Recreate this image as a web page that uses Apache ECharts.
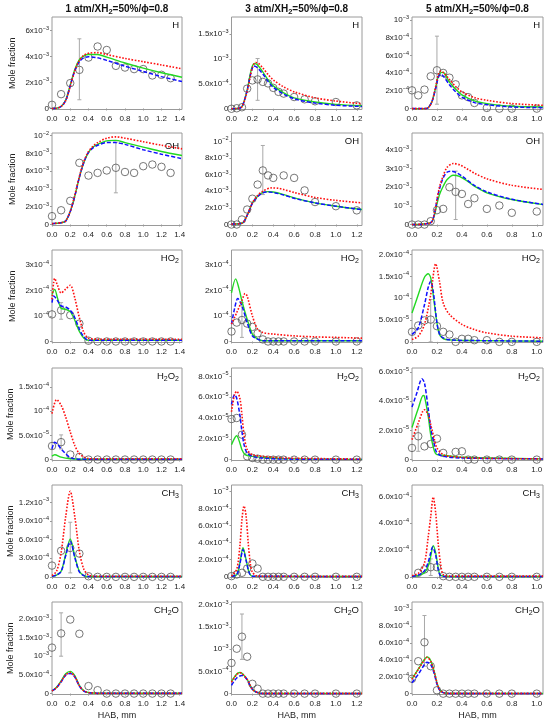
<!DOCTYPE html>
<html><head><meta charset="utf-8">
<script src="https://cdn.jsdelivr.net/npm/echarts@6/dist/echarts.min.js"></script>
<style>html,body{margin:0;padding:0;background:#fff}#c{width:550px;height:727px}</style>
</head><body><div id="c"></div>
<script>
// ---------- tick labels ----------
const xTicks1 = [0, 0.2, 0.4, 0.6, 0.8, 1.0, 1.2, 1.4];
const xTicks3 = [0, 0.2, 0.4, 0.6, 0.8, 1.0, 1.2];
const xTicks5 = [0, 0.2, 0.4, 0.6, 0.8, 1.0];

const hLabels1 = ['0', '2x10^-3', '4x10^-3', '6x10^-3'];
const hLabels3 = ['0', '5.0x10^-4', '10^-3', '1.5x10^-3'];
const hLabels5 = ['0', '2x10^-4', '4x10^-4', '6x10^-4', '8x10^-4', '10^-3'];
const ohLabels1 = ['0', '2x10^-3', '4x10^-3', '6x10^-3', '8x10^-3', '10^-2'];
const ohLabels3 = ['0', '2x10^-3', '4x10^-3', '6x10^-3', '8x10^-3', '10^-2'];
const ohLabels5 = ['0', '10^-3', '2x10^-3', '3x10^-3', '4x10^-3'];
const ho2Labels1 = ['0', '10^-4', '2x10^-4', '3x10^-4'];
const ho2Labels3 = ['0', '10^-4', '2x10^-4', '3x10^-4'];
const ho2Labels5 = ['0', '5.0x10^-5', '10^-4', '1.5x10^-4', '2.0x10^-4'];
const h2o2Labels1 = ['0', '5.0x10^-5', '10^-4', '1.5x10^-4'];
const h2o2Labels3 = ['0', '2.0x10^-5', '4.0x10^-5', '6.0x10^-5', '8.0x10^-5'];
const h2o2Labels5 = ['0', '2.0x10^-5', '4.0x10^-5', '6.0x10^-5'];
const ch3Labels1 = ['0', '3.0x10^-4', '6.0x10^-4', '9.0x10^-4', '1.2x10^-3'];
const ch3Labels3 = ['0', '2.0x10^-4', '4.0x10^-4', '6.0x10^-4', '8.0x10^-4', '10^-3'];
const ch3Labels5 = ['0', '2.0x10^-4', '4.0x10^-4', '6.0x10^-4'];
const ch2oLabels1 = ['0', '5.0x10^-4', '10^-3', '1.5x10^-3', '2.0x10^-3'];
const ch2oLabels3 = ['0', '5.0x10^-4', '10^-3', '1.5x10^-3', '2.0x10^-3'];
const ch2oLabels5 = ['0', '2.0x10^-4', '4.0x10^-4', '6.0x10^-4', '8.0x10^-4', '10^-3'];

// ---------- data: [HAB mm, mole fraction in panel unit] ; errors: [HAB, low, high] ----------
// H, 1 atm (unit 1e-3)
const hRed1 = [[0,0],[0.05,0.02],[0.1,0.15],[0.15,0.6],[0.2,1.7],[0.25,2.9],[0.3,3.7],[0.35,4.1],[0.4,4.25],[0.5,4.3],[0.6,4.15],[0.8,3.85],[1.0,3.6],[1.2,3.35],[1.425,3.05]];
const hBlue1 = [[0,0],[0.05,0.02],[0.1,0.15],[0.15,0.6],[0.2,1.75],[0.25,2.9],[0.3,3.6],[0.35,3.9],[0.4,3.98],[0.5,3.9],[0.6,3.7],[0.8,3.25],[1.0,2.85],[1.2,2.45],[1.425,2.07]];
const hGreen1 = [[0,0],[0.05,0.02],[0.1,0.15],[0.15,0.65],[0.2,1.8],[0.25,3.0],[0.3,3.75],[0.35,4.05],[0.4,4.15],[0.5,4.15],[0.6,3.95],[0.8,3.5],[1.0,3.1],[1.2,2.75],[1.425,2.4]];
const hExp1 = [[0,0.28],[0.1,1.1],[0.2,1.95],[0.3,2.97],[0.4,3.92],[0.5,4.77],[0.6,4.5],[0.7,3.28],[0.8,3.15],[0.9,3.03],[1.0,3.03],[1.1,2.54],[1.2,2.59],[1.3,2.33]];
const hErr1 = [[0.3,0.67,5.36]];
// H, 3 atm (unit 1e-4)
const hRed3 = [[0,0],[0.05,0.05],[0.1,0.4],[0.15,3.5],[0.18,6.5],[0.2,8.3],[0.23,9.3],[0.26,9.1],[0.3,8.2],[0.35,6.9],[0.4,5.8],[0.5,4.4],[0.6,3.4],[0.8,2.2],[1.0,1.55],[1.25,1.0]];
const hBlue3 = [[0,0],[0.05,0.05],[0.1,0.4],[0.15,3.7],[0.18,6.7],[0.2,8.2],[0.21,8.6],[0.24,8.4],[0.3,7.0],[0.35,5.5],[0.4,4.3],[0.5,2.95],[0.6,2.0],[0.8,1.15],[1.0,0.7],[1.25,0.47]];
const hGreen3 = [[0,0],[0.05,0.05],[0.1,0.4],[0.15,3.8],[0.18,7.0],[0.2,8.6],[0.22,9.1],[0.25,8.8],[0.3,7.4],[0.35,5.8],[0.4,4.6],[0.5,3.2],[0.6,2.2],[0.8,1.35],[1.0,0.88],[1.25,0.6]];
const hExp3 = [[0,0],[0.05,0.1],[0.1,0.3],[0.15,4.05],[0.2,5.7],[0.25,5.9],[0.3,5.4],[0.35,5.1],[0.4,4.2],[0.45,3.4],[0.5,3.05],[0.6,2.36],[0.7,1.9],[0.8,1.5],[1.0,1.35],[1.2,0.68]];
const hErr3 = [[0.25,1.7,10.1]];
// H, 5 atm (unit 1e-4)
const hRed5 = [[0,0],[0.1,0],[0.13,0.1],[0.16,0.8],[0.19,2.5],[0.21,3.8],[0.23,4.25],[0.25,4.1],[0.3,3.3],[0.35,2.5],[0.4,1.9],[0.5,1.25],[0.6,0.94],[0.8,0.57],[1.05,0.38]];
const hBlue5 = [[0,0],[0.1,0],[0.13,0.1],[0.16,0.8],[0.19,2.3],[0.21,3.5],[0.23,3.9],[0.25,3.7],[0.3,2.7],[0.35,1.9],[0.4,1.3],[0.5,0.68],[0.6,0.45],[0.8,0.19],[1.05,0.11]];
const hGreen5 = [[0,0],[0.1,0],[0.13,0.1],[0.16,0.8],[0.19,2.4],[0.21,3.6],[0.24,4.1],[0.26,4.0],[0.3,3.0],[0.35,2.2],[0.4,1.55],[0.5,0.87],[0.6,0.57],[0.8,0.26],[1.05,0.19]];
const hExp5 = [[0,2.07],[0.05,1.5],[0.1,2.15],[0.15,3.66],[0.2,4.34],[0.25,4.04],[0.3,3.5],[0.35,2.75],[0.4,1.5],[0.45,1.3],[0.5,0.64],[0.6,0.08],[0.7,0],[0.8,0],[1.0,0]];
const hErr5 = [[0.2,0.5,8.2]];
// OH, 1 atm (unit 1e-3)
const ohRed1 = [[0,0.1],[0.1,0.2],[0.15,0.4],[0.2,1.5],[0.25,3.3],[0.3,5.4],[0.35,7.1],[0.4,8.2],[0.45,8.8],[0.5,9.2],[0.6,9.7],[0.7,9.85],[0.8,9.7],[1.0,9.3],[1.2,8.9],[1.425,8.5]];
const ohBlue1 = [[0,0.1],[0.1,0.2],[0.15,0.4],[0.2,1.45],[0.25,3.2],[0.3,5.3],[0.35,7.0],[0.4,8.1],[0.45,8.6],[0.5,8.9],[0.6,9.2],[0.7,9.2],[0.8,9.0],[1.0,8.4],[1.2,7.9],[1.425,7.4]];
const ohGreen1 = [[0,0.1],[0.1,0.2],[0.15,0.4],[0.2,1.45],[0.25,3.2],[0.3,5.3],[0.35,7.0],[0.4,8.1],[0.45,8.7],[0.5,9.0],[0.6,9.4],[0.7,9.45],[0.8,9.2],[1.0,8.7],[1.2,8.2],[1.425,7.75]];
const ohExp1 = [[0,0.94],[0.1,1.6],[0.2,2.66],[0.3,6.93],[0.4,5.5],[0.5,5.8],[0.6,6.07],[0.7,6.37],[0.8,5.9],[0.9,5.8],[1.0,6.55],[1.1,6.74],[1.2,6.48],[1.3,5.8]];
const ohErr1 = [[0.7,3.56,9.25]];
// OH, 3 atm (unit 1e-3)
const ohRed3 = [[0,0.05],[0.1,0.15],[0.15,1.1],[0.2,2.6],[0.25,3.5],[0.3,4.0],[0.38,4.4],[0.45,4.35],[0.5,4.2],[0.6,3.85],[0.8,3.25],[1.0,2.9],[1.25,2.6]];
const ohBlue3 = [[0,0.05],[0.1,0.15],[0.15,1.1],[0.2,2.55],[0.25,3.35],[0.3,3.8],[0.35,3.9],[0.4,3.85],[0.5,3.55],[0.6,3.15],[0.8,2.6],[1.0,2.2],[1.25,1.8]];
const ohGreen3 = [[0,0.05],[0.1,0.15],[0.15,1.1],[0.2,2.6],[0.25,3.4],[0.3,3.85],[0.35,3.95],[0.4,3.9],[0.5,3.6],[0.6,3.2],[0.8,2.6],[1.0,2.2],[1.25,1.8]];
const ohExp3 = [[0,0],[0.05,0],[0.1,0.6],[0.15,1.8],[0.2,3.1],[0.25,4.8],[0.3,6.5],[0.35,5.9],[0.4,5.6],[0.5,5.9],[0.6,5.6],[0.7,4.1],[0.8,2.7],[1.0,2.2],[1.2,1.7]];
const ohErr3 = [[0.3,3.6,9.5]];
// OH, 5 atm (unit 1e-3)
const ohRed5 = [[0,0],[0.15,0.1],[0.18,0.6],[0.2,1.3],[0.22,2.0],[0.25,2.6],[0.28,3.05],[0.33,3.27],[0.38,3.2],[0.45,2.95],[0.5,2.75],[0.6,2.45],[0.8,2.1],[1.05,1.88]];
const ohBlue5 = [[0,0],[0.15,0.1],[0.18,0.6],[0.2,1.3],[0.22,1.9],[0.25,2.5],[0.28,2.8],[0.31,2.86],[0.35,2.8],[0.4,2.6],[0.5,2.1],[0.6,1.75],[0.8,1.35],[1.05,1.08]];
const ohGreen5 = [[0,0],[0.15,0.1],[0.18,0.5],[0.2,1.1],[0.22,1.6],[0.25,2.05],[0.28,2.4],[0.33,2.64],[0.38,2.58],[0.45,2.3],[0.5,2.05],[0.6,1.7],[0.8,1.34],[1.05,1.07]];
const ohExp5 = [[0,0],[0.05,0],[0.1,0],[0.15,0.18],[0.2,0.77],[0.25,0.84],[0.3,2.0],[0.35,1.75],[0.4,1.64],[0.45,1.1],[0.5,1.41],[0.6,0.84],[0.7,1.02],[0.8,0.63],[1.0,0.7]];
const ohErr5 = [[0.35,0.27,2.86]];
// HO2, 1 atm (unit 1e-4)
const ho2Red1 = [[0,1.65],[0.03,2.47],[0.06,2.2],[0.1,1.9],[0.15,2.05],[0.2,2.2],[0.25,1.7],[0.3,0.93],[0.35,0.35],[0.4,0.13],[0.5,0.09],[1.425,0.09]];
const ho2Blue1 = [[0,1.52],[0.02,1.78],[0.06,1.6],[0.1,1.39],[0.15,1.35],[0.2,1.22],[0.25,0.93],[0.3,0.48],[0.35,0.18],[0.4,0.05],[1.425,0.05]];
const ho2Green1 = [[0,1.84],[0.03,2.04],[0.06,1.7],[0.1,1.3],[0.15,1.26],[0.2,1.17],[0.25,0.83],[0.3,0.39],[0.35,0.13],[0.4,0.05],[1.425,0.05]];
const ho2Exp1 = [[0,1.06],[0.1,1.22],[0.2,1.03],[0.3,0.7],[0.4,0.03],[0.5,0],[0.6,0],[0.7,0],[0.8,0],[0.9,0],[1.0,0],[1.1,0],[1.2,0],[1.3,0]];
const ho2Err1 = [[0.1,0.87,1.52]];
// HO2, 3 atm (unit 1e-4)
const ho2Red3 = [[0,0.68],[0.05,1.13],[0.1,1.6],[0.13,1.88],[0.15,1.78],[0.2,1.0],[0.25,0.48],[0.3,0.35],[0.4,0.29],[0.6,0.22],[0.8,0.18],[1.0,0.16],[1.25,0.13]];
const ho2Blue3 = [[0,0.68],[0.03,1.3],[0.06,1.68],[0.1,1.39],[0.15,0.74],[0.2,0.22],[0.25,0.09],[0.3,0.03],[1.25,0.03]];
const ho2Green3 = [[0,1.9],[0.04,2.45],[0.07,2.1],[0.1,1.58],[0.15,0.87],[0.2,0.29],[0.25,0.09],[0.3,0.03],[1.25,0.03]];
const ho2Exp3 = [[0,0.39],[0.05,0.74],[0.1,0.84],[0.15,0.7],[0.2,0.57],[0.25,0.32],[0.3,0.08],[0.35,0],[0.4,0],[0.45,0],[0.5,0],[0.6,0],[0.7,0],[0.8,0],[1.0,0],[1.2,0]];
const ho2Err3 = [[0.1,0.16,1.52]];
// HO2, 5 atm (unit 1e-5)
const ho2Red5 = [[0,0.53],[0.05,1.3],[0.1,4.0],[0.15,10.8],[0.19,17.9],[0.22,13.9],[0.25,8.9],[0.3,6.3],[0.4,4.0],[0.5,2.8],[0.6,2.06],[0.8,1.3],[1.05,0.92]];
const ho2Blue5 = [[0,1.7],[0.05,3.2],[0.1,8.5],[0.13,12.5],[0.15,13.9],[0.17,11.6],[0.2,4.35],[0.22,1.83],[0.25,0.9],[0.3,0.46],[0.5,0.3],[1.05,0.15]];
const ho2Green5 = [[0,6.6],[0.05,10.8],[0.1,14.8],[0.13,15.6],[0.15,14.7],[0.18,8.5],[0.2,4.35],[0.22,1.7],[0.25,0.76],[0.3,0.46],[0.5,0.3],[1.05,0.15]];
const ho2Exp5 = [[0,2.3],[0.05,3.74],[0.1,4.9],[0.15,5.1],[0.2,3.6],[0.25,2.3],[0.3,1.68],[0.35,0],[0.4,0.69],[0.45,0.69],[0.5,0.38],[0.6,0.38],[0.7,0],[0.8,0],[1.0,0]];
const ho2Err5 = [[0.15,0,9.7]];
// H2O2, 1 atm (unit 1e-5)
const h2o2Red1 = [[0,9.5],[0.05,12.4],[0.1,11.25],[0.15,8.8],[0.2,5.7],[0.25,2.9],[0.3,1.2],[0.35,0.5],[0.4,0.2],[0.5,0.15],[1.425,0.15]];
const h2o2Blue1 = [[0,2.2],[0.03,3.6],[0.06,3.2],[0.1,2.2],[0.15,1.2],[0.2,0.4],[0.25,0.14],[0.3,0.05],[1.425,0.05]];
const h2o2Green1 = [[0,0.7],[0.03,1.0],[0.1,0.5],[0.2,0.15],[0.3,0.05],[1.425,0.05]];
const h2o2Exp1 = [[0,2.8],[0.1,3.6],[0.2,1.04],[0.3,0.55],[0.4,0],[0.5,0],[0.6,0],[0.7,0],[0.8,0],[0.9,0],[1.0,0],[1.1,0],[1.2,0],[1.3,0]];
const h2o2Err1 = [[0.1,2.2,5.1]];
// H2O2, 3 atm (unit 1e-5)
const h2o2Red3 = [[0,4.6],[0.03,6.3],[0.05,6.56],[0.08,5.9],[0.1,4.3],[0.12,2.4],[0.15,0.96],[0.2,0.48],[0.3,0.32],[0.5,0.16],[1.25,0.06]];
const h2o2Blue3 = [[0,5.3],[0.03,6.24],[0.05,5.9],[0.08,4.3],[0.1,2.7],[0.12,1.44],[0.15,0.64],[0.2,0.32],[0.3,0.16],[0.5,0.06],[1.25,0.03]];
const h2o2Green3 = [[0,1.44],[0.05,2.3],[0.08,1.6],[0.1,0.96],[0.13,0.48],[0.2,0.32],[0.3,0.22],[0.5,0.1],[1.25,0.03]];
const h2o2Exp3 = [[0,3.9],[0.05,4.0],[0.1,2.4],[0.15,0.32],[0.2,0.16],[0.25,0.1],[0.3,0],[0.35,0],[0.4,0],[0.45,0],[0.5,0],[0.6,0],[0.7,0],[0.8,0],[1.0,0],[1.2,0]];
const h2o2Err3 = [];
// H2O2, 5 atm (unit 1e-5)
const h2o2Red5 = [[0,1.37],[0.05,2.5],[0.1,3.42],[0.13,3.08],[0.15,2.4],[0.18,1.37],[0.2,0.8],[0.25,0.34],[0.3,0.23],[0.5,0.11],[1.05,0.05]];
const h2o2Blue5 = [[0,3.6],[0.04,4.6],[0.08,5.55],[0.1,5.25],[0.13,3.5],[0.15,2.17],[0.18,1.0],[0.2,0.46],[0.25,0.23],[0.4,0.11],[1.05,0.05]];
const h2o2Green5 = [[0,2.2],[0.05,3.5],[0.09,4.4],[0.1,4.34],[0.13,2.97],[0.15,1.7],[0.18,0.57],[0.2,0.34],[0.25,0.3],[0.4,0.16],[1.05,0.05]];
const h2o2Exp5 = [[0,0.8],[0.05,1.6],[0.1,0.91],[0.15,1.07],[0.2,1.44],[0.25,0.46],[0.35,0.53],[0.4,0.57],[0.45,0],[0.5,0],[0.6,0],[0.7,0],[0.8,0],[1.0,0]];
const h2o2Err5 = [[0.05,0.57,2.3]];
// CH3, 1 atm (unit 1e-4)
const ch3Red1 = [[0,0.2],[0.05,0.9],[0.1,3.9],[0.15,9.7],[0.2,13.8],[0.25,9.7],[0.3,4.1],[0.35,1.2],[0.4,0.3],[0.45,0.1],[1.425,0.1]];
const ch3Blue1 = [[0,0.1],[0.05,0.3],[0.1,0.85],[0.15,3.4],[0.2,5.75],[0.25,3.1],[0.3,0.8],[0.35,0.2],[0.4,0.05],[1.425,0.05]];
const ch3Green1 = [[0,0.1],[0.05,0.3],[0.1,0.9],[0.15,3.6],[0.2,6.1],[0.25,3.3],[0.3,0.9],[0.35,0.2],[0.4,0.05],[1.425,0.05]];
const ch3Exp1 = [[0,1.82],[0.1,4.2],[0.2,4.66],[0.3,3.75],[0.4,0.1],[0.5,0],[0.6,0],[0.7,0],[0.8,0],[0.9,0],[1.0,0],[1.1,0],[1.2,0],[1.3,0]];
const ch3Err1 = [[0.2,0.64,8.8]];
// CH3, 3 atm (unit 1e-4)
const ch3Red3 = [[0,0.08],[0.05,0.86],[0.08,3.6],[0.1,6.7],[0.12,8.3],[0.14,7.1],[0.16,4.0],[0.18,1.6],[0.2,0.55],[0.25,0.08],[1.25,0.05]];
const ch3Blue3 = [[0,0.04],[0.05,0.25],[0.08,1.5],[0.11,3.2],[0.14,1.9],[0.17,0.45],[0.2,0.08],[1.25,0.04]];
const ch3Green3 = [[0,0.04],[0.05,0.27],[0.08,1.6],[0.11,3.4],[0.14,2.0],[0.17,0.47],[0.2,0.08],[1.25,0.04]];
const ch3Exp3 = [[0,0.08],[0.05,0.27],[0.1,0.47],[0.15,0.97],[0.2,1.56],[0.25,0.97],[0.3,0],[0.35,0],[0.4,0],[0.45,0],[0.5,0],[0.6,0],[0.7,0],[0.8,0],[1.0,0],[1.2,0]];
const ch3Err3 = [];
// CH3, 5 atm (unit 1e-4)
const ch3Red5 = [[0,0.1],[0.05,0.25],[0.1,1.04],[0.13,3.0],[0.15,4.5],[0.17,5.96],[0.19,4.76],[0.21,2.5],[0.23,0.92],[0.25,0.17],[0.3,0.05],[1.05,0.05]];
const ch3Blue5 = [[0,0.03],[0.05,0.12],[0.1,0.45],[0.13,1.1],[0.15,1.8],[0.165,2.23],[0.19,1.6],[0.21,0.55],[0.23,0.08],[0.3,0.03],[1.05,0.03]];
const ch3Green5 = [[0,0.03],[0.05,0.1],[0.1,0.3],[0.13,0.8],[0.15,1.54],[0.17,2.33],[0.19,1.79],[0.21,0.67],[0.23,0.1],[0.3,0.03],[1.05,0.03]];
const ch3Exp5 = [[0.05,0.3],[0.1,0.55],[0.15,0.72],[0.2,0.72],[0.25,0.05],[0.3,0],[0.35,0],[0.4,0],[0.45,0],[0.5,0],[0.6,0],[0.7,0],[0.8,0],[1.0,0]];
const ch3Err5 = [[0.15,0.1,1.34]];
// CH2O, 1 atm (unit 1e-4)
const ch2oRed1 = [[0,0.7],[0.05,1.6],[0.1,3.2],[0.15,5.0],[0.2,5.6],[0.25,4.5],[0.3,2.1],[0.35,0.7],[0.4,0.27],[0.5,0.1],[1.425,0.1]];
const ch2oBlue1 = [[0,0.7],[0.05,1.6],[0.1,3.1],[0.15,4.9],[0.2,5.4],[0.25,4.4],[0.3,2.0],[0.35,0.65],[0.4,0.25],[0.5,0.1],[1.425,0.1]];
const ch2oGreen1 = [[0,0.7],[0.05,1.7],[0.1,3.4],[0.15,5.3],[0.2,5.95],[0.25,4.8],[0.3,2.2],[0.35,0.7],[0.4,0.27],[0.5,0.1],[1.425,0.1]];
const ch2oExp1 = [[0,12.3],[0.1,16.1],[0.2,19.8],[0.3,16.0],[0.4,2.0],[0.5,0.9],[0.6,0],[0.7,0],[0.8,0],[0.9,0],[1.0,0],[1.1,0],[1.2,0],[1.3,0]];
const ch2oErr1 = [[0.1,10,21.6]];
// CH2O, 3 atm (unit 1e-4)
const ch2oRed3 = [[0,2.6],[0.05,4.3],[0.08,4.7],[0.1,4.55],[0.15,3.2],[0.2,0.97],[0.25,0.22],[0.3,0.05],[1.25,0.05]];
const ch2oBlue3 = [[0,1.87],[0.05,3.5],[0.1,4.1],[0.12,4.0],[0.15,3.1],[0.2,0.95],[0.25,0.22],[0.3,0.05],[1.25,0.05]];
const ch2oGreen3 = [[0,2.7],[0.05,4.4],[0.08,4.75],[0.1,4.6],[0.15,3.2],[0.2,0.97],[0.25,0.22],[0.3,0.05],[1.25,0.05]];
const ch2oExp3 = [[0,6.9],[0.05,10.1],[0.1,12.8],[0.15,8.3],[0.2,2.2],[0.25,1.1],[0.3,0],[0.35,0],[0.4,0],[0.45,0],[0.5,0],[0.6,0],[0.7,0],[0.8,0],[1.0,0],[1.2,0]];
const ch2oErr3 = [[0.1,7.7,17.9]];
// CH2O, 5 atm (unit 1e-4)
const ch2oRed5 = [[0,1.7],[0.05,2.86],[0.1,4.0],[0.12,4.3],[0.15,3.84],[0.18,2.47],[0.2,1.3],[0.22,0.5],[0.25,0.12],[0.3,0.03],[1.05,0.03]];
const ch2oBlue5 = [[0,1.3],[0.05,2.27],[0.1,3.45],[0.12,3.73],[0.15,3.45],[0.18,2.27],[0.2,1.1],[0.22,0.45],[0.25,0.12],[0.3,0.03],[1.05,0.03]];
const ch2oGreen5 = [[0,1.75],[0.05,2.9],[0.1,4.05],[0.12,4.35],[0.15,3.9],[0.18,2.5],[0.2,1.3],[0.22,0.5],[0.25,0.12],[0.3,0.03],[1.05,0.03]];
const ch2oExp5 = [[0,1.76],[0.05,3.84],[0.1,6.08],[0.15,3.25],[0.2,0.4],[0.25,0],[0.3,0],[0.35,0],[0.4,0],[0.45,0],[0.5,0],[0.6,0],[0.7,0],[0.8,0],[1.0,0]];
const ch2oErr5 = [[0.1,3.25,9.25]];

// ---------- panel list ----------
const panels = [
  {row:0,col:0,label:'H',unit:1e-3,yMin:-0.08,yMax:7.04,ticks:hLabels1,red:hRed1,blue:hBlue1,green:hGreen1,exp:hExp1,err:hErr1},
  {row:0,col:1,label:'H',unit:1e-4,yMin:-0.15,yMax:18.45,ticks:hLabels3,red:hRed3,blue:hBlue3,green:hGreen3,exp:hExp3,err:hErr3},
  {row:0,col:2,label:'H',unit:1e-4,yMin:-0.1,yMax:10.37,ticks:hLabels5,red:hRed5,blue:hBlue5,green:hGreen5,exp:hExp5,err:hErr5},
  {row:1,col:0,label:'OH',unit:1e-3,yMin:-0.11,yMax:10.28,ticks:ohLabels1,red:ohRed1,blue:ohBlue1,green:ohGreen1,exp:ohExp1,err:ohErr1,labelDy:13},
  {row:1,col:1,label:'OH',unit:1e-3,yMin:-0.12,yMax:11.0,ticks:ohLabels3,red:ohRed3,blue:ohBlue3,green:ohGreen3,exp:ohExp3,err:ohErr3},
  {row:1,col:2,label:'OH',unit:1e-3,yMin:-0.05,yMax:4.9,ticks:ohLabels5,red:ohRed5,blue:ohBlue5,green:ohGreen5,exp:ohExp5,err:ohErr5},
  {row:2,col:0,label:'HO2',unit:1e-4,yMin:-0.04,yMax:3.58,ticks:ho2Labels1,red:ho2Red1,blue:ho2Blue1,green:ho2Green1,exp:ho2Exp1,err:ho2Err1},
  {row:2,col:1,label:'HO2',unit:1e-4,yMin:-0.04,yMax:3.58,ticks:ho2Labels3,red:ho2Red3,blue:ho2Blue3,green:ho2Green3,exp:ho2Exp3,err:ho2Err3},
  {row:2,col:2,label:'HO2',unit:1e-5,yMin:-0.15,yMax:21.05,ticks:ho2Labels5,red:ho2Red5,blue:ho2Blue5,green:ho2Green5,exp:ho2Exp5,err:ho2Err5},
  {row:3,col:0,label:'H2O2',unit:1e-5,yMin:-0.2,yMax:18.95,ticks:h2o2Labels1,red:h2o2Red1,blue:h2o2Blue1,green:h2o2Green1,exp:h2o2Exp1,err:h2o2Err1},
  {row:3,col:1,label:'H2O2',unit:1e-5,yMin:-0.08,yMax:8.8,ticks:h2o2Labels3,red:h2o2Red3,blue:h2o2Blue3,green:h2o2Green3,exp:h2o2Exp3,err:h2o2Err3},
  {row:3,col:2,label:'H2O2',unit:1e-5,yMin:-0.06,yMax:6.28,ticks:h2o2Labels5,red:h2o2Red5,blue:h2o2Blue5,green:h2o2Green5,exp:h2o2Exp5,err:h2o2Err5},
  {row:4,col:0,label:'CH3',unit:1e-4,yMin:-0.1,yMax:14.8,ticks:ch3Labels1,red:ch3Red1,blue:ch3Blue1,green:ch3Green1,exp:ch3Exp1,err:ch3Err1},
  {row:4,col:1,label:'CH3',unit:1e-4,yMin:-0.08,yMax:10.75,ticks:ch3Labels3,red:ch3Red3,blue:ch3Blue3,green:ch3Green3,exp:ch3Exp3,err:ch3Err3},
  {row:4,col:2,label:'CH3',unit:1e-4,yMin:-0.05,yMax:6.86,ticks:ch3Labels5,red:ch3Red5,blue:ch3Blue5,green:ch3Green5,exp:ch3Exp5,err:ch3Err5},
  {row:5,col:0,label:'CH2O',unit:1e-4,yMin:-0.25,yMax:24.5,ticks:ch2oLabels1,red:ch2oRed1,blue:ch2oBlue1,green:ch2oGreen1,exp:ch2oExp1,err:ch2oErr1},
  {row:5,col:1,label:'CH2O',unit:1e-4,yMin:-0.2,yMax:20.6,ticks:ch2oLabels3,red:ch2oRed3,blue:ch2oBlue3,green:ch2oGreen3,exp:ch2oExp3,err:ch2oErr3},
  {row:5,col:2,label:'CH2O',unit:1e-4,yMin:-0.1,yMax:10.85,ticks:ch2oLabels5,red:ch2oRed5,blue:ch2oBlue5,green:ch2oGreen5,exp:ch2oExp5,err:ch2oErr5}
];

// ---------- layout ----------
const FONT = '"Liberation Sans", Arial, Helvetica, sans-serif';
const COL_LEFT = [52, 231.5, 412];
const COL_WIDTH = [130, 130.5, 131];
const ROW_TOP = [17, 133, 250, 368, 485, 602];
const ROW_HEIGHT = 92.5;
const X_MAX = [1.425, 1.25, 1.05];
const X_TICKS = [xTicks1, xTicks3, xTicks5];
const COL_TITLES = ['{t|1 atm/XH}{ts|2}{t|=50%/\u03D5=0.8}', '{t|3 atm/XH}{ts|2}{t|=50%/\u03D5=0.8}', '{t|5 atm/XH}{ts|2}{t|=50%/\u03D5=0.8}'];

function tickValue(s) {
  if (s === '0') return 0;
  const m = s.match(/^(?:([\d.]+)x)?10\^(-?\d+)$/);
  return (m[1] ? parseFloat(m[1]) : 1) * Math.pow(10, parseInt(m[2], 10));
}
function tickRich(s) {
  if (s === '0') return '{m|0}';
  const i = s.indexOf('^');
  return '{m|' + s.slice(0, i) + '}{s|' + s.slice(i + 1).replace('-', '\u2212') + '}';
}
function chemRich(name) {
  return name.replace(/([A-Za-z]+)|(\d+)/g, (m, a, d) => a ? '{n|' + a + '}' : '{d|' + d + '}');
}

const grid = [], xAxis = [], yAxis = [], series = [], graphic = [];
panels.forEach((p, i) => {
  const left = COL_LEFT[p.col], top = ROW_TOP[p.row], width = COL_WIDTH[p.col];
  grid.push({left: left, top: top, width: width, height: ROW_HEIGHT, show: true,
    borderColor: '#9a9a9a', borderWidth: 1, backgroundColor: 'rgba(0,0,0,0)'});
  const xt = X_TICKS[p.col];
  xAxis.push({
    gridIndex: i, type: 'value', min: 0, max: X_MAX[p.col],
    axisLine: {show: false}, splitLine: {show: false},
    axisTick: {show: true, length: 2, customValues: xt, lineStyle: {color: '#9a9a9a'}},
    axisLabel: {customValues: xt, formatter: v => v.toFixed(1), fontSize: 8, fontFamily: FONT, color: '#222', margin: 5},
    name: p.row === 5 ? 'HAB, mm' : '', nameLocation: 'middle', nameGap: 17,
    nameTextStyle: {fontSize: 9, fontFamily: FONT, color: '#222'}
  });
  const yv = p.ticks.map(tickValue);
  yAxis.push({
    gridIndex: i, type: 'value', min: p.yMin * p.unit, max: p.yMax * p.unit,
    axisLine: {show: false}, splitLine: {show: false},
    axisTick: {show: true, length: 2, customValues: yv, lineStyle: {color: '#9a9a9a'}},
    axisLabel: {
      customValues: yv, margin: 3, fontSize: 8, fontFamily: FONT, color: '#222',
      formatter: v => {
        let best = 0, bd = Infinity;
        yv.forEach((t, k) => { const d = Math.abs(t - v); if (d < bd) { bd = d; best = k; } });
        return tickRich(p.ticks[best]);
      },
      rich: {
        m: {fontSize: 8, lineHeight: 11, fontFamily: FONT, color: '#222'},
        s: {fontSize: 5.5, lineHeight: 7, fontFamily: FONT, color: '#222', verticalAlign: 'top'}
      }
    },
    name: p.col === 0 ? 'Mole fraction' : '', nameLocation: 'middle', nameGap: 35,
    nameTextStyle: {fontSize: 9, fontFamily: FONT, color: '#222'}
  });
  const sc = arr => arr.map(d => [d[0], d[1] * p.unit]);
  series.push({type: 'line', xAxisIndex: i, yAxisIndex: i, data: sc(p.green), showSymbol: false, smooth: 0.3,
    lineStyle: {color: '#22d822', width: 1.4, type: 'solid'}, silent: true});
  series.push({type: 'line', xAxisIndex: i, yAxisIndex: i, data: sc(p.blue), showSymbol: false, smooth: 0.3,
    lineStyle: {color: '#1010ff', width: 1.5, type: [4, 2]}, silent: true});
  series.push({type: 'line', xAxisIndex: i, yAxisIndex: i, data: sc(p.red), showSymbol: false, smooth: 0.3,
    lineStyle: {color: '#ff1010', width: 1.6, type: [1.6, 1.6]}, silent: true});
  series.push({type: 'custom', xAxisIndex: i, yAxisIndex: i, silent: true,
    data: p.err.map(e => [e[0], e[1] * p.unit, e[2] * p.unit]),
    encode: {x: 0, y: [1, 2]},
    renderItem: (params, api) => {
      const x = api.value(0);
      const a = api.coord([x, api.value(1)]), b = api.coord([x, api.value(2)]);
      const w = 2, st = {stroke: '#a8a8a8', lineWidth: 1};
      return {type: 'group', children: [
        {type: 'line', shape: {x1: a[0], y1: a[1], x2: b[0], y2: b[1]}, style: st},
        {type: 'line', shape: {x1: a[0] - w, y1: a[1], x2: a[0] + w, y2: a[1]}, style: st},
        {type: 'line', shape: {x1: b[0] - w, y1: b[1], x2: b[0] + w, y2: b[1]}, style: st}
      ]};
    }});
  series.push({type: 'scatter', xAxisIndex: i, yAxisIndex: i, data: sc(p.exp), symbol: 'circle', symbolSize: 7.5,
    clip: false, silent: true,
    itemStyle: {color: 'rgba(255,255,255,0)', borderColor: '#555', borderWidth: 1}});
  graphic.push({type: 'text', x: left + width - 3, y: top + (p.labelDy || 8), silent: true,
    style: {text: chemRich(p.label), align: 'right', verticalAlign: 'middle',
      rich: {
        n: {fontSize: 9.5, lineHeight: 14, fontFamily: FONT, fill: '#111'},
        d: {fontSize: 7, lineHeight: 9, fontFamily: FONT, fill: '#111', verticalAlign: 'bottom'}
      }}});
});
COL_TITLES.forEach((t, c) => {
  graphic.push({type: 'text', x: COL_LEFT[c] + COL_WIDTH[c] / 2, y: 9.3, silent: true,
    style: {text: t, align: 'center', verticalAlign: 'middle',
      rich: {
        t: {fontSize: 10, fontWeight: 'bold', lineHeight: 14, fontFamily: FONT, fill: '#111'},
        ts: {fontSize: 7.5, fontWeight: 'bold', lineHeight: 9, fontFamily: FONT, fill: '#111', verticalAlign: 'bottom'}
      }}});
});

const chart = echarts.init(document.getElementById('c'), null, {renderer: 'canvas'});
chart.setOption({animation: false, backgroundColor: '#fff', grid, xAxis, yAxis, series, graphic});
</script></body></html>
